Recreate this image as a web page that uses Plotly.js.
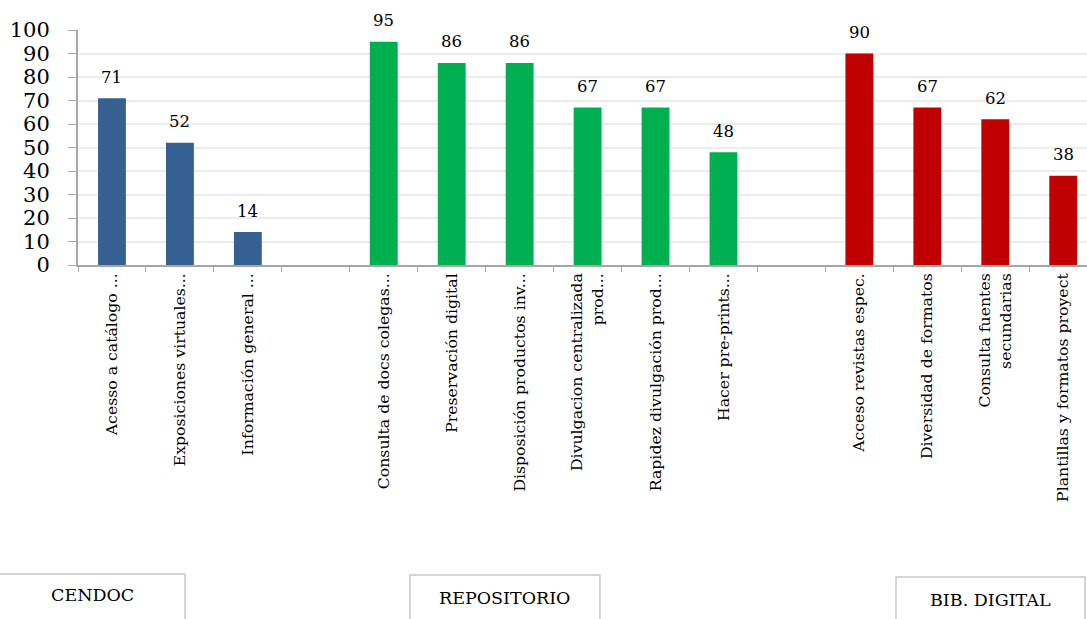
<!DOCTYPE html>
<html>
<head>
<meta charset="utf-8">
<script src="https://cdn.plot.ly/plotly-3.0.1.min.js"></script>
<style>html,body{margin:0;padding:0;background:#fff;}#chart{width:1087px;height:619px;}</style>
</head>
<body>
<div id="chart"></div>
<script>
// ---- data ----
const cendocLabels = ["Acesso a catálogo ...", "Exposiciones virtuales...", "Información general ..."];
const cendocValues = [71, 52, 14];
const repoLabels = ["Consulta de docs colegas...", "Preservación digital", "Disposición productos inv...", "Divulgacion centralizada<br>prod...", "Rapidez divulgación prod...", "Hacer pre-prints..."];
const repoValues = [95, 86, 86, 67, 67, 48];
const bibLabels = ["Acceso revistas espec.", "Diversidad de formatos", "Consulta fuentes<br>secundarias", "Plantillas y formatos proyect"];
const bibValues = [90, 67, 62, 38];
const groupNames = ["CENDOC", "REPOSITORIO", "BIB. DIGITAL"];
const groupColors = ["#376092", "#00B050", "#C00000"];
const yTicks = [0, 10, 20, 30, 40, 50, 60, 70, 80, 90, 100];

// ---- build one categorical series with empty gap slots ----
const groups = [[cendocLabels, cendocValues], [repoLabels, repoValues], [bibLabels, bibValues]];
const ids = [], texts = [], vals = [], cols = [];
groups.forEach((g, gi) => {
  g[0].forEach((lab, i) => {
    ids.push("c" + ids.length); texts.push(lab); vals.push(g[1][i]); cols.push(groupColors[gi]);
  });
  if (gi < groups.length - 1) { ids.push("c" + ids.length); texts.push(""); vals.push(null); cols.push("#fff"); }
});

const serif = "DejaVu Serif, Liberation Serif, serif";

const trace = {
  type: "bar", x: ids, y: vals, width: 0.41,
  marker: {color: cols, line: {width: 0}},
  hoverinfo: "x+y", showlegend: false
};

const annotations = [];
ids.forEach((id, i) => {
  if (vals[i] !== null) annotations.push({
    x: id, y: vals[i], xref: "x", yref: "y", text: String(vals[i]), showarrow: false,
    yanchor: "middle", yshift: 21, font: {family: serif, size: 16.5, color: "#000"}
  });
});

// group caption boxes below the chart
const boxes = [
  {x0: -0.09, x1: 0.106, top: -1.315, tx: 0.014, ty: -1.404},
  {x0: 0.329, x1: 0.5173, top: -1.319, tx: 0.423, ty: -1.417},
  {x0: 0.8107, x1: 0.998, top: -1.328, tx: 0.904, ty: -1.426}
];
const shapes = boxes.map(b => ({
  type: "rect", xref: "paper", yref: "paper", x0: b.x0, x1: b.x1, y0: -1.7, y1: b.top,
  line: {color: "#c8c8c8", width: 1.5}, fillcolor: "rgba(0,0,0,0)"
}));
boxes.forEach((b, i) => annotations.push({
  xref: "paper", yref: "paper", x: b.tx, y: b.ty, text: groupNames[i], showarrow: false,
  xanchor: "center", yanchor: "middle", font: {family: serif, size: 17.5, color: "#000"}
}));

const layout = {
  width: 1087, height: 619,
  margin: {l: 78, r: 0, t: 30, b: 354},
  paper_bgcolor: "#fff", plot_bgcolor: "#fff",
  bargap: 0.59,
  xaxis: {
    type: "category", categoryorder: "array", categoryarray: ids,
    tickvals: ids, ticktext: texts, tickangle: -90,
    range: [-0.5, 14.35],
    tickson: "boundaries", ticks: "outside", ticklen: 5, tickcolor: "#a6a6a6", tickwidth: 1,
    showline: true, linecolor: "#a6a6a6", linewidth: 2,
    showgrid: false, zeroline: false,
    tickfont: {family: serif, size: 15.7, color: "#000"}
  },
  yaxis: {
    range: [0, 100], tickvals: yTicks, ticks: "outside", ticklen: 8, tickcolor: "#a6a6a6",
    showline: true, linecolor: "#a6a6a6", linewidth: 2,
    showgrid: true, gridcolor: "#ececec", gridwidth: 2, zeroline: false,
    ticklabelstandoff: 14,
    tickfont: {family: serif, size: 21, color: "#000"}
  },
  shapes: shapes,
  annotations: annotations
};

Plotly.newPlot("chart", [trace], layout, {displayModeBar: false, staticPlot: true});
</script>
</body>
</html>
